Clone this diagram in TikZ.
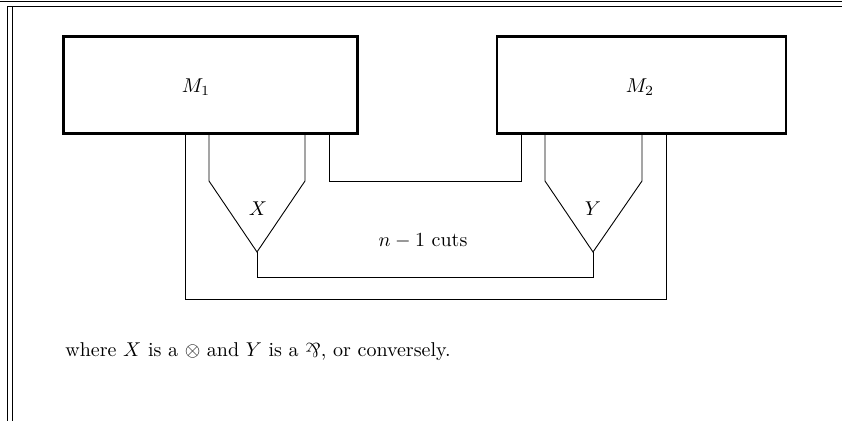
\documentclass[tikz,border=0pt]{standalone}
\usepackage{graphicx}
\newcommand{\myparr}{\mathbin{\rotatebox[origin=c]{180}{$\&$}}}
\begin{document}
\begin{tikzpicture}[x=0.5pt,y=-0.5pt,
  frameline/.style={line width=0.5pt},
  wire/.style={line width=0.45pt, line join=miter},
  mbox/.style={draw, line width=1.1pt, minimum height=48.5pt, inner sep=0pt}]
\useasboundingbox (0,0) rectangle (842,421);
% frame
\draw[frameline] (0,2) -- (842,2);
\draw[frameline] (7,421) -- (7,7) -- (842,7);
\draw[frameline] (12,421) -- (12,7);
% boxes
\node[mbox, minimum width=147pt] (M1) at (210.5,85) {};
\node[mbox, minimum width=144.5pt] (M2) at (641.5,85) {};
\node (L1) at (196,87) {$M_1$};
\node (L2) at (640,87) {$M_2$};
% coordinates on box bottoms
\coordinate (a1) at (185,134);
\coordinate (a2) at (209,134);
\coordinate (a3) at (305,134);
\coordinate (a4) at (329,134);
\coordinate (b1) at (521,134);
\coordinate (b2) at (545,134);
\coordinate (b3) at (642,134);
\coordinate (b4) at (666,134);
\coordinate (xa) at (257,252);
\coordinate (ya) at (593,252);
% X and Y
\draw[wire] (a2) -- (209,181) -- (xa) -- (305,181) -- (a3);
\draw[wire] (b2) -- (545,181) -- (ya) -- (642,181) -- (b3);
\node (X) at (258,209) {$X$};
\node (Y) at (593,209) {$Y$};
% cut between M1 and M2
\draw[wire] (a4) -- (329,181) -- (521,181) -- (b1);
% cut between X and Y
\draw[wire] (xa) -- (257,277) -- (593,277) -- (ya);
% outer cut
\draw[wire] (a1) -- (185,299) -- (666,299) -- (b4);
\node (C) at (423,241) {$n-1$ cuts};
\node[anchor=base west, inner sep=0pt] (T) at (65,357) {where $X$ is a $\otimes$ and $Y$ is a $\myparr$, or conversely.};
\end{tikzpicture}
\end{document}
